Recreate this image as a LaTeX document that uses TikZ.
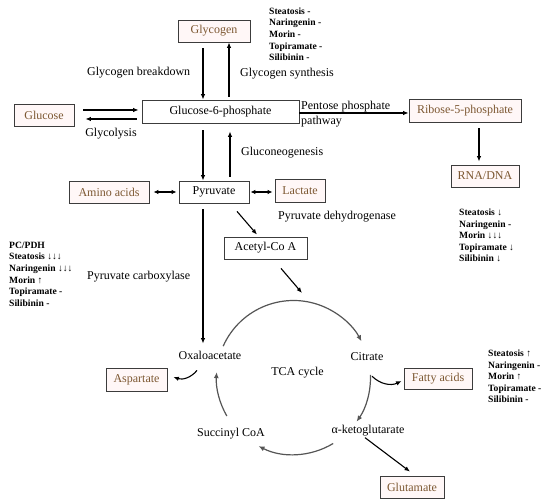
\documentclass[tikz,border=0pt]{standalone}
\usepackage{fontspec}
\setmainfont{Liberation Serif}
\usepackage{xcolor}
\usepackage{tikz}
\usetikzlibrary{arrows.meta,positioning,calc}
\definecolor{metab}{RGB}{125,88,50}
\definecolor{boxline}{RGB}{60,60,60}
\definecolor{boxfill}{RGB}{255,247,247}
\definecolor{cycgray}{RGB}{85,85,85}

\begin{document}
\begin{tikzpicture}[x=1pt,y=1pt,
  box/.style={draw=boxline,line width=0.8pt,minimum height=22pt,inner sep=2pt,font=\fontsize{12}{14}\selectfont},
  mbox/.style={box,fill=boxfill,text=metab},
  lab/.style={font=\fontsize{12}{14}\selectfont,inner sep=1pt},
  drug/.style={font=\fontsize{9.6}{11.6}\selectfont\bfseries,align=left,inner sep=0pt,anchor=north west},
  rx/.style={-{Latex[length=5.5pt,width=4.5pt]},line width=1.1pt},
  rxx/.style={{Latex[length=5pt,width=4.5pt]}-{Latex[length=5pt,width=4.5pt]},line width=1.1pt},
  cyc/.style={-{Latex[length=6pt,width=5pt]},line width=1.2pt,draw=cycgray}]
  \useasboundingbox (0,0) rectangle (550,504);
  \node[mbox,minimum width=72pt] (glycogen) at (214,473) {Glycogen};
  \node[box,minimum width=157pt,minimum height=23pt] (g6p) at (220.5,392.5) {Glucose-6-phosphate};
  \node[mbox,minimum width=60pt] (glucose) at (44,389) {Glucose};
  \node[mbox,minimum width=112pt,minimum height=23pt] (ribose) at (465,393.5) {Ribose-5-phosphate};
  \node[mbox,minimum width=68pt] (rna) at (485,328) {RNA/DNA};
  \node[box,minimum width=70pt] (pyruvate) at (214,312) {Pyruvate};
  \node[mbox,minimum width=80pt] (amino) at (109,312) {Amino acids};
  \node[mbox,minimum width=50pt,minimum height=23pt] (lactate) at (300,313) {Lactate};
  \node[box,minimum width=83pt] (acetyl) at (265.5,256) {Acetyl-Co A};
  \node[mbox,minimum width=61pt,minimum height=23pt] (aspartate) at (136.5,124.5) {Aspartate};
  \node[mbox,minimum width=68pt,minimum height=21pt] (fatty) at (438,125.5) {Fatty acids};
  \node[mbox,minimum width=64pt] (glutamate) at (412,17) {Glutamate};

  \coordinate (tca) at (293.5,126.5);
  \node[lab] (oxalo) at (210,149) {Oxaloacetate};
  \node[lab] (citrate) at (367,147) {Citrate};
  \node[lab] (akg) at (368,73) {α-ketoglutarate};
  \node[lab] (succ) at (231,70) {Succinyl CoA};
  \node[lab] (tcalab) at (297.5,131) {TCA cycle};

  \node[lab,anchor=west] (gbd) at (86,431) {Glycogen breakdown};
  \node[lab,anchor=west] (gsyn) at (239,430) {Glycogen synthesis};
  \node[lab] (glycolysis) at (111,370) {Glycolysis};
  \node[lab,anchor=west] (gneo) at (240,351) {Gluconeogenesis};
  \node[lab,anchor=west,align=left,font=\fontsize{12}{14.5}\selectfont] (ppp) at (300,390) {Pentose phosphate\\pathway};
  \node[lab,anchor=west] (pdh) at (277,287) {Pyruvate dehydrogenase};
  \node[lab,anchor=west] (pc) at (86,227) {Pyruvate carboxylase};

  \node[drug] (drgly) at (269,496.5) {Steatosis -\\Naringenin -\\Morin -\\Topiramate -\\Silibinin -};
  \node[drug] (drpc) at (9,262.3) {PC/PDH\\Steatosis ↓↓↓\\Naringenin ↓↓↓\\Morin ↑\\Topiramate -\\Silibinin -};
  \node[drug] (drrna) at (459,295.3) {Steatosis ↓\\Naringenin -\\Morin ↓↓↓\\Topiramate ↓\\Silibinin ↓};
  \node[drug] (drfat) at (488,154.3) {Steatosis ↑\\Naringenin -\\Morin ↑\\Topiramate -\\Silibinin -};

  \draw[rx] ([xshift=-11pt,yshift=-6pt]glycogen.south) -- ([xshift=-17.5pt]g6p.north);
  \draw[rx] ([xshift=8.5pt,yshift=3pt]g6p.north) -- ([xshift=15pt]glycogen.south);
  \draw[rx] ([xshift=9pt,yshift=5pt]glucose.east) -- ([xshift=-3pt,yshift=1.5pt]g6p.west);
  \draw[rx] ([xshift=-5pt,yshift=-7.5pt]g6p.west) -- ([xshift=11pt,yshift=-4pt]glucose.east);
  \draw[rx] ([xshift=-17.5pt,yshift=-7pt]g6p.south) -- ([xshift=-11pt]pyruvate.north);
  \draw[rx] ([xshift=16pt,yshift=4pt]pyruvate.north) -- ([xshift=9.5pt,yshift=-8pt]g6p.south);
  \draw[rx] ([yshift=-1.5pt]g6p.east) -- ([yshift=-2.5pt]ribose.west);
  \draw[rx] ([xshift=14pt,yshift=-6pt]ribose.south) -- ([xshift=-6pt,yshift=3pt]rna.north);
  \draw[rxx] ([xshift=4pt]amino.east) -- ([xshift=-2pt]pyruvate.west);
  \draw[rxx] ([xshift=1pt]pyruvate.east) -- ([xshift=-2pt,yshift=-1pt]lactate.west);
  \draw[rx] ([xshift=23pt,yshift=-8pt]pyruvate.south) -- ([xshift=-8.5pt,yshift=2pt]acetyl.north);
  \coordinate (cyctop) at (302,211);
  \draw[rx] ([xshift=15.5pt,yshift=-9pt]acetyl.south) -- (cyctop);
  \draw[rx] ([xshift=-11pt,yshift=-6pt]pyruvate.south) -- ([xshift=-7pt,yshift=6pt]oxalo.north);
  \draw[rx] ([xshift=-13pt,yshift=-10pt]oxalo.south) to[bend left=35] ([xshift=6pt,yshift=2.5pt]aspartate.east);
  \draw[rx] ([xshift=5pt,yshift=-14pt]citrate.south) to[bend right=35] ([xshift=-2pt,yshift=-2.5pt]fatty.west);
  \draw[rx] ([xshift=-3pt]akg.south) -- ([xshift=-2pt,yshift=4pt]glutamate.north);

  \draw[cyc] ([shift={(156:77)}]tca) arc[start angle=156,end angle=28,radius=77];
  \draw[cyc] ([shift={(2:77)}]tca) arc[start angle=2,end angle=-35,radius=77];
  \draw[cyc] ([shift={(-59:77)}]tca) arc[start angle=-59,end angle=-117,radius=77];
  \draw[cyc] ([shift={(210:77)}]tca) arc[start angle=210,end angle=176,radius=77];
\end{tikzpicture}
\end{document}
